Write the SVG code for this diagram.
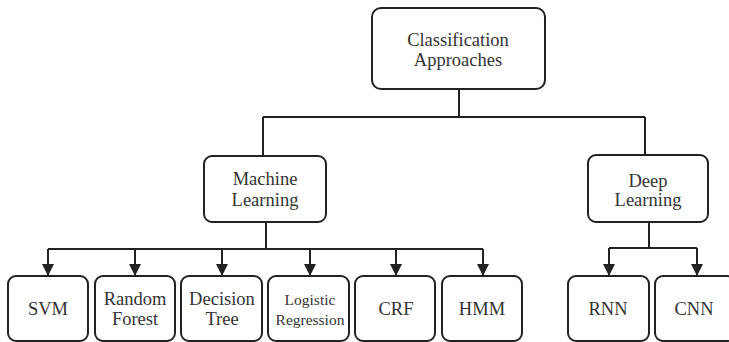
<svg xmlns="http://www.w3.org/2000/svg" width="729" height="342" viewBox="0 0 729 342">
<style>
.box{fill:#fff;stroke:#222;stroke-width:2}
.ln{fill:none;stroke:#222;stroke-width:2}
text{font-family:"Liberation Serif","Times New Roman",serif;font-size:18.5px;fill:#333;text-anchor:middle}
.sm{font-size:15.5px}
</style>
<defs>
<marker id="ah" markerWidth="12" markerHeight="12" viewBox="0 0 12 12" refX="11" refY="6" orient="auto" markerUnits="userSpaceOnUse">
<path d="M0,0 L12,6 L0,12 Z" fill="#222"/>
</marker>
</defs>
<rect width="729" height="342" fill="#fff"/>
<g id="connectors">
<path class="ln" d="M459,89 V117"/>
<path class="ln" d="M263,117 H645"/>
<path class="ln" d="M263,117 V156"/>
<path class="ln" d="M645,117 V155"/>
<path class="ln" d="M266,222 V249"/>
<path class="ln" d="M48,249 H483"/>
<path class="ln" d="M48,249 V275" marker-end="url(#ah)"/>
<path class="ln" d="M135,249 V275" marker-end="url(#ah)"/>
<path class="ln" d="M222,249 V275" marker-end="url(#ah)"/>
<path class="ln" d="M310,249 V275" marker-end="url(#ah)"/>
<path class="ln" d="M396,249 V275" marker-end="url(#ah)"/>
<path class="ln" d="M483,249 V275" marker-end="url(#ah)"/>
<path class="ln" d="M649,222 V248"/>
<path class="ln" d="M609,248 H697"/>
<path class="ln" d="M609,248 V275" marker-end="url(#ah)"/>
<path class="ln" d="M697,248 V275" marker-end="url(#ah)"/>
</g>
<g id="root">
<rect class="box" x="372" y="8" width="173" height="81" rx="9"/>
<text x="458" y="46">Classification</text>
<text x="458" y="66">Approaches</text>
</g>
<g id="ml">
<rect class="box" x="204" y="156" width="122" height="66" rx="8"/>
<text x="265" y="185">Machine</text>
<text x="265" y="206">Learning</text>
</g>
<g id="dl">
<rect class="box" x="588" y="155" width="120" height="67" rx="8"/>
<text x="648" y="187">Deep</text>
<text x="648" y="206">Learning</text>
</g>
<g id="svm">
<rect class="box" x="8" y="276" width="80" height="65" rx="8"/>
<text x="48" y="315">SVM</text>
</g>
<g id="rf">
<rect class="box" x="95" y="276" width="80" height="65" rx="8"/>
<text x="135" y="305">Random</text>
<text x="135" y="325">Forest</text>
</g>
<g id="dt">
<rect class="box" x="181" y="276" width="81" height="65" rx="8"/>
<text x="222" y="305">Decision</text>
<text x="222" y="325">Tree</text>
</g>
<g id="lr">
<rect class="box" x="268" y="276" width="81" height="65" rx="8"/>
<text class="sm" x="310" y="305">Logistic</text>
<text class="sm" x="310" y="325">Regression</text>
</g>
<g id="crf">
<rect class="box" x="355" y="276" width="80" height="65" rx="8"/>
<text x="396" y="315">CRF</text>
</g>
<g id="hmm">
<rect class="box" x="442" y="276" width="80" height="65" rx="8"/>
<text x="482" y="315">HMM</text>
</g>
<g id="rnn">
<rect class="box" x="568" y="276" width="81" height="65" rx="8"/>
<text x="608" y="315">RNN</text>
</g>
<g id="cnn">
<rect class="box" x="655" y="276" width="80" height="65" rx="8"/>
<text x="694" y="315">CNN</text>
</g>
</svg>
